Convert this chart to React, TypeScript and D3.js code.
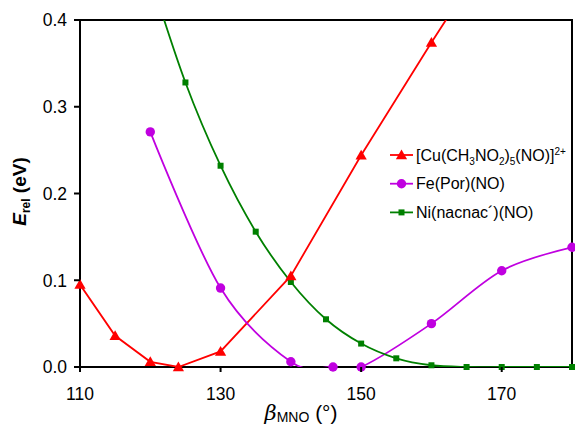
import React from 'react';
import * as d3 from 'd3';

// beta_MNO (deg) and relative energies (eV)
const cuAngles = [110, 115, 120, 124, 130, 140, 150, 160, 170];
const cuEnergies = [0.095, 0.036, 0.006, 0.0, 0.018, 0.105, 0.244, 0.374, 0.5];

const feAngles = [120, 130, 140, 146, 150, 160, 170, 180];
const feEnergies = [0.271, 0.091, 0.006, 0.0, 0.0, 0.05, 0.111, 0.138];

const niAngles = [120, 125, 130, 135, 140, 145, 150, 155, 160, 165, 170, 175, 180];
const niEnergies = [0.45, 0.328, 0.232, 0.156, 0.098, 0.055, 0.027, 0.01, 0.002, 0.0, 0.0, 0.0, 0.0];

const xTicks = [110, 130, 150, 170];
const yTicks = [0, 0.1, 0.2, 0.3, 0.4];

const W = 575;
const H = 429;
const margin = { top: 20, right: 3, bottom: 62, left: 80 };

const FONT = 'Arial, "Liberation Sans", sans-serif';

export default function App() {
  const innerW = W - margin.left - margin.right;
  const innerH = H - margin.top - margin.bottom;

  const x = d3.scaleLinear().domain([110, 180]).range([0, innerW]);
  const y = d3.scaleLinear().domain([0, 0.4]).range([innerH, 0]);

  const toPts = (xs: number[], ys: number[]) => xs.map((a, i) => [a, ys[i]] as [number, number]);

  const linear = d3
    .line<[number, number]>()
    .x((d) => x(d[0]))
    .y((d) => y(d[1]));
  const smooth = d3
    .line<[number, number]>()
    .x((d) => x(d[0]))
    .y((d) => y(d[1]))
    .curve(d3.curveCatmullRom.alpha(0));

  const cu = toPts(cuAngles, cuEnergies);
  const fe = toPts(feAngles, feEnergies);
  const ni = toPts(niAngles, niEnergies);

  const red = '#ff0000';
  const purple = '#c000e0';
  const green = '#008000';

  const tri = d3.symbol().type(d3.symbolTriangle).size(55)();
  const inPlot = (d: [number, number]) => d[1] <= 0.4 && d[0] <= 180;

  const legend = [
    { color: red, kind: 'tri' },
    { color: purple, kind: 'circle' },
    { color: green, kind: 'square' },
  ];

  const marker = (kind: string, color: string, cx: number, cy: number, key: string) => {
    if (kind === 'tri')
      return <path key={key} d={tri || ''} transform={`translate(${cx},${cy + 1})`} fill={color} />;
    if (kind === 'circle') return <circle key={key} cx={cx} cy={cy} r={4.7} fill={color} />;
    return <rect key={key} x={cx - 3} y={cy - 3} width={6} height={6} fill={color} />;
  };

  return (
    <svg
      width={W}
      height={H}
      style={{ position: 'absolute', left: 0, top: 0, background: '#fff' }}
      fontFamily={FONT}
    >
      <defs>
        <clipPath id="plot">
          <rect x={0} y={0} width={innerW} height={innerH} />
        </clipPath>
      </defs>
      <g transform={`translate(${margin.left},${margin.top})`}>
        {/* frame */}
        <rect x={0} y={0} width={innerW} height={innerH} fill="none" stroke="#000" strokeWidth={2} />

        <g clipPath="url(#plot)">
          <path d={linear(cu) || ''} fill="none" stroke={red} strokeWidth={1.8} />
          <path d={smooth(fe) || ''} fill="none" stroke={purple} strokeWidth={1.8} />
          <path d={smooth(ni) || ''} fill="none" stroke={green} strokeWidth={1.8} />
        </g>

        {ni.filter(inPlot).map((d, i) => marker('square', green, x(d[0]), y(d[1]), 'n' + i))}
        {fe.filter(inPlot).map((d, i) => marker('circle', purple, x(d[0]), y(d[1]), 'f' + i))}
        {cu.filter(inPlot).map((d, i) => marker('tri', red, x(d[0]), y(d[1]), 'c' + i))}

        {/* y axis */}
        {yTicks.map((t) => (
          <g key={t} transform={`translate(0,${y(t)})`}>
            <line x1={-6} x2={0} stroke="#000" strokeWidth={2} />
            <text x={-13} dy="0.36em" textAnchor="end" fontSize={17.5} fill="#000">
              {d3.format('.1f')(t)}
            </text>
          </g>
        ))}
        {/* x axis */}
        {xTicks.map((t) => (
          <g key={t} transform={`translate(${x(t)},${innerH})`}>
            <line y1={0} y2={5} stroke="#000" strokeWidth={2} />
            <text y={33} textAnchor="middle" fontSize={17.5} fill="#000">
              {t}
            </text>
          </g>
        ))}

        {/* axis titles */}
        <text
          transform={`translate(${-54},${innerH / 2 - 2}) rotate(-90)`}
          textAnchor="middle"
          fontSize={19}
          fontWeight="bold"
          fill="#000"
        >
          <tspan fontStyle="italic">E</tspan>
          <tspan fontSize={12} dy={4}>rel</tspan>
          <tspan dy={-4}> (eV)</tspan>
        </text>
        <text x={innerW / 2 - 25} y={innerH + 53} textAnchor="middle" fontSize={21} fill="#000">
          <tspan fontStyle="italic" fontFamily='"DejaVu Serif", serif'>β</tspan>
          <tspan fontSize={14} dy={2}>MNO</tspan>
          <tspan dy={-2}> (°)</tspan>
        </text>

        {/* legend */}
        <g transform={`translate(${390 - margin.left},${155 - margin.top})`}>
          {legend.map((l, i) => (
            <g key={i} transform={`translate(0,${i * 28.7})`}>
              <line x1={0} x2={23} stroke={l.color} strokeWidth={1.8} />
              {marker(l.kind, l.color, 11.5, 0, 'l' + i)}
              <text x={26} dy="0.35em" fontSize={16} fill="#000">
                {i === 0 && (
                  <>
                    [Cu(CH<tspan fontSize={10} dy={4}>3</tspan>
                    <tspan dy={-4}>NO</tspan>
                    <tspan fontSize={10} dy={4}>2</tspan>
                    <tspan dy={-4}>)</tspan>
                    <tspan fontSize={10} dy={4}>5</tspan>
                    <tspan dy={-4}>(NO)]</tspan>
                    <tspan fontSize={10} dy={-6}>2+</tspan>
                  </>
                )}
                {i === 1 && 'Fe(Por)(NO)'}
                {i === 2 && 'Ni(nacnac´)(NO)'}
              </text>
            </g>
          ))}
        </g>
      </g>
    </svg>
  );
}
